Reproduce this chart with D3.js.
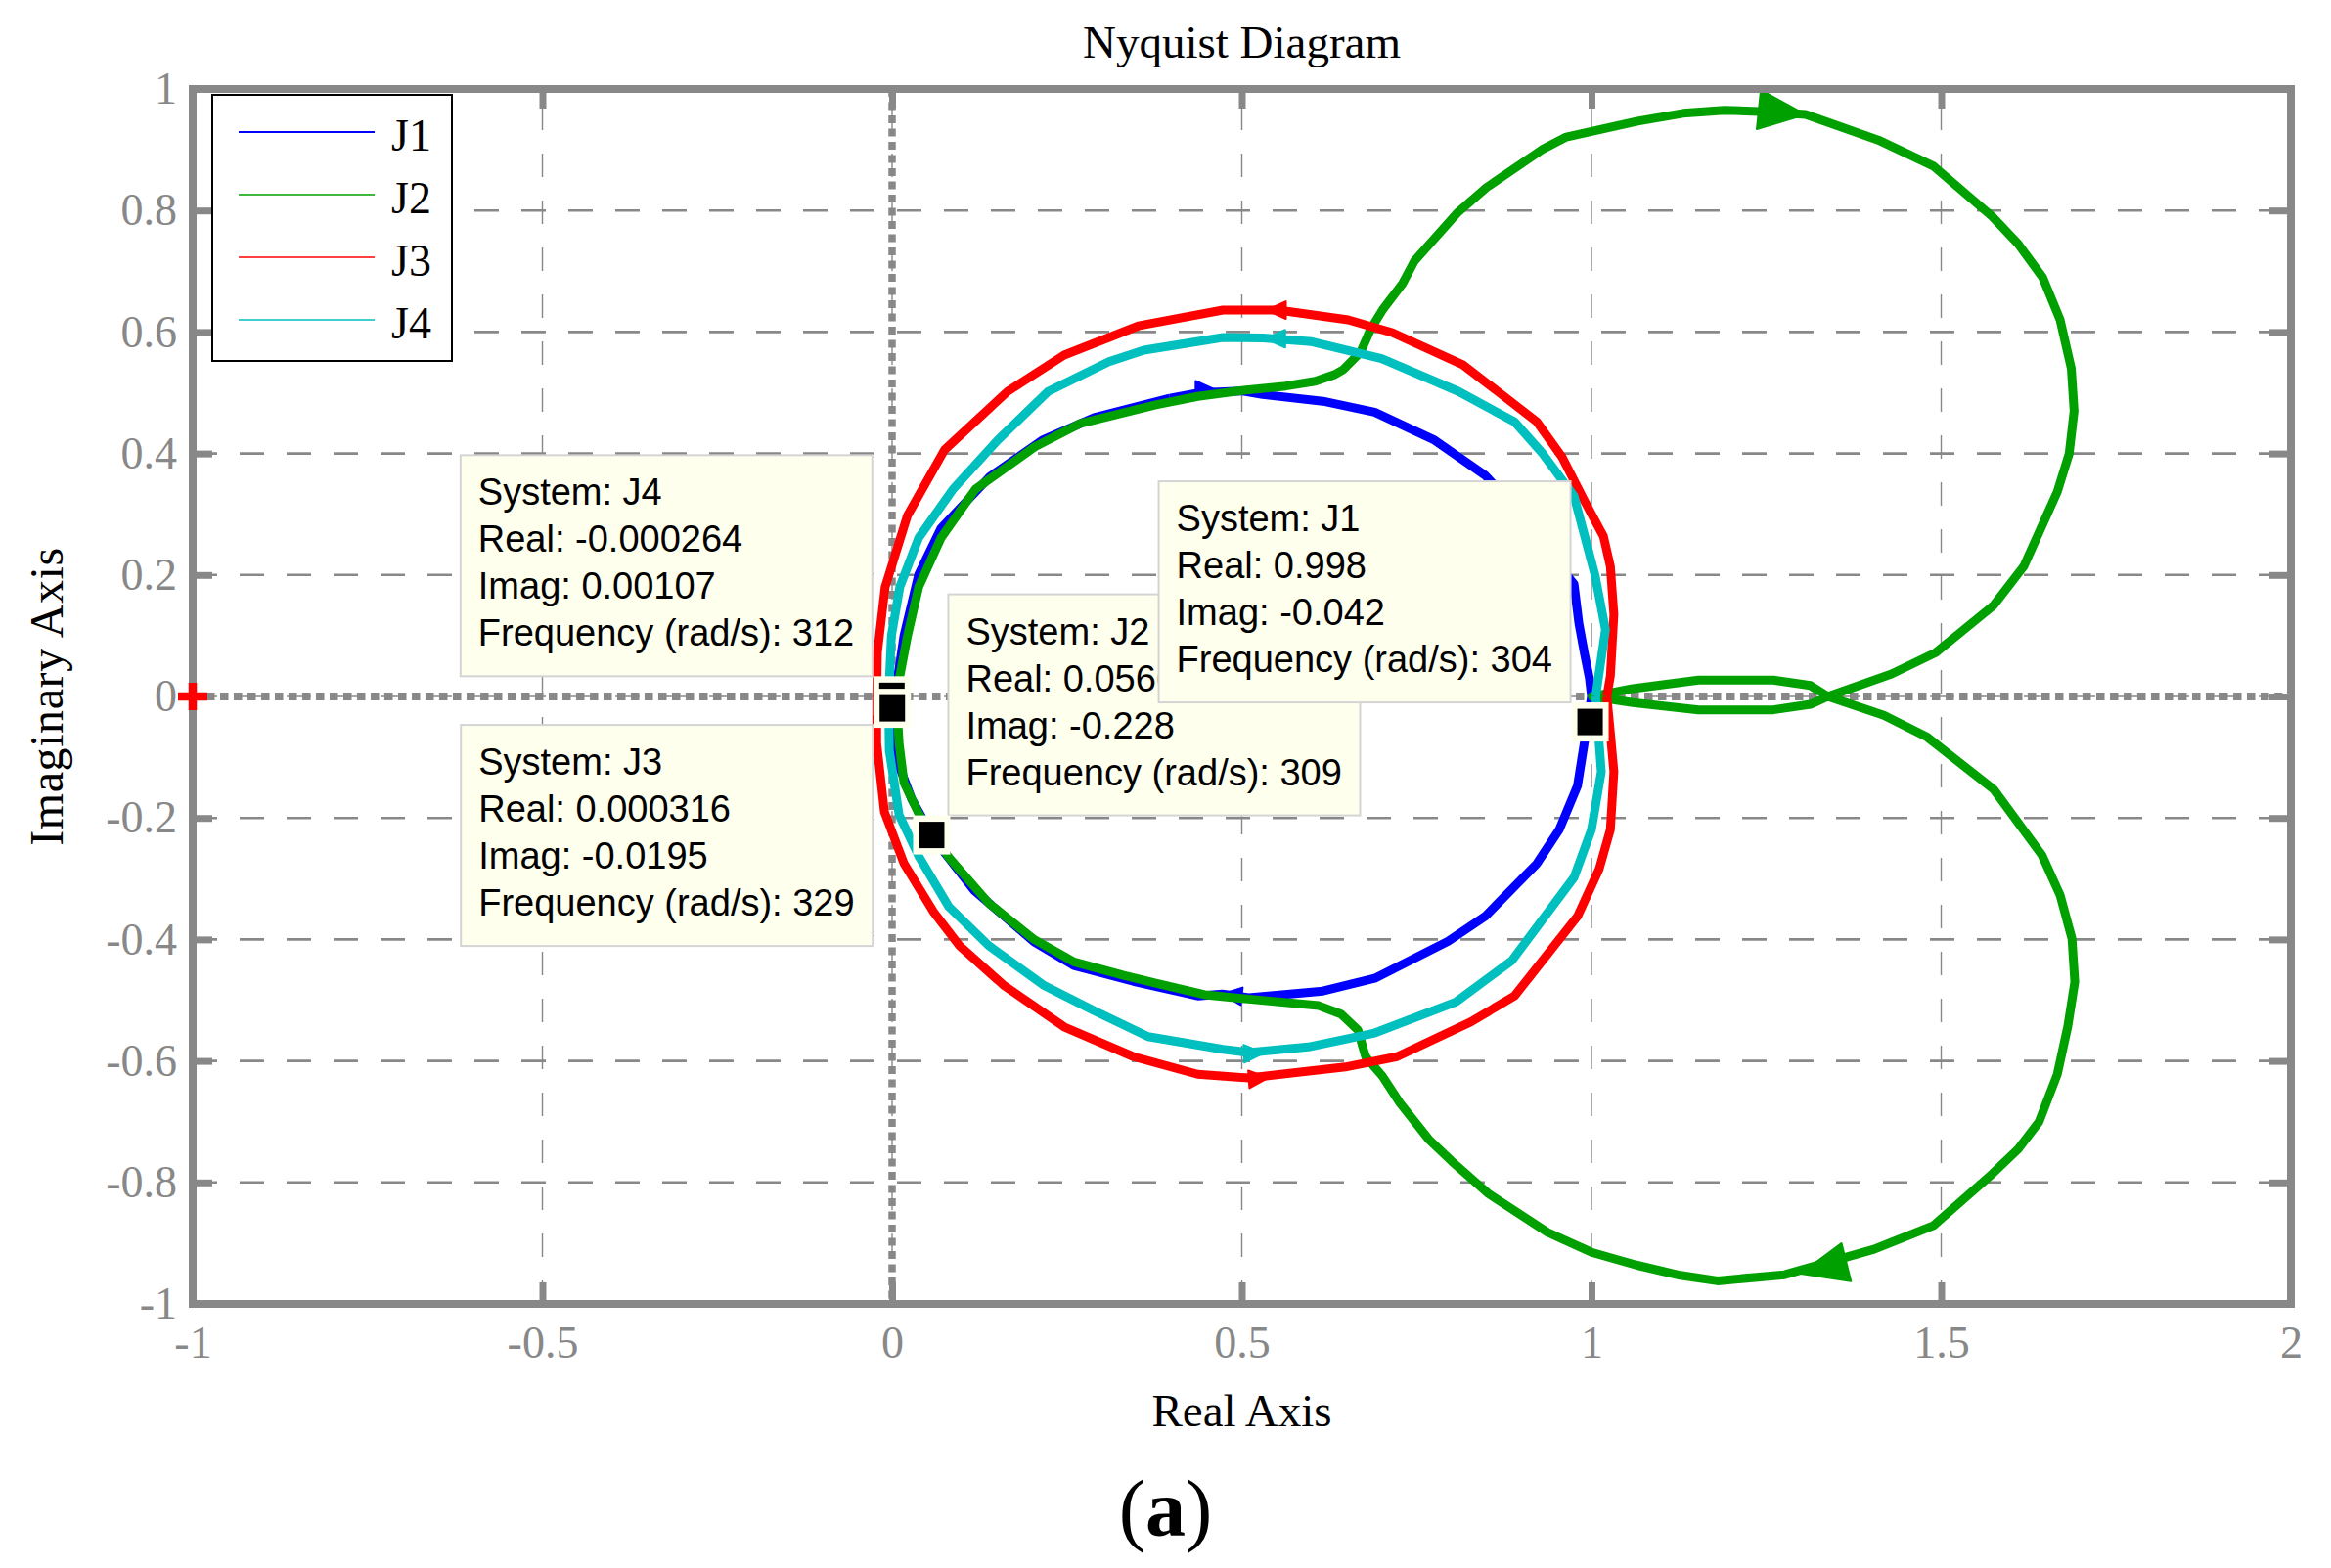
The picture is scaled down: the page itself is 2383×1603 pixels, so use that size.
<!DOCTYPE html>
<html lang="en">
<head>
<meta charset="utf-8">
<title>Nyquist Diagram</title>
<script src="https://d3js.org/d3.v7.min.js"></script>
<style>
  body { margin: 0; background: #fff; }
  svg { display: block; }
</style>
</head>
<body>
<script>
// ---- data ----
var xTicks = [-1, -0.5, 0, 0.5, 1, 1.5, 2];
var xTickLabels = ["-1", "-0.5", "0", "0.5", "1", "1.5", "2"];
var yTicks = [-1, -0.8, -0.6, -0.4, -0.2, 0, 0.2, 0.4, 0.6, 0.8, 1];
var yTickLabels = ["-1", "-0.8", "-0.6", "-0.4", "-0.2", "0", "0.2", "0.4", "0.6", "0.8", "1"];

var systems = ["J1", "J2", "J3", "J4"];

// [real, imag]
var j1Points = [[0.397,0.491],[0.44,0.50],[0.50,0.503],[0.53,0.497],[0.616,0.486],[0.69,0.468],[0.774,0.423],
  [0.848,0.364],[0.90,0.30],[0.94,0.235],[0.975,0.185],[0.982,0.12],[0.99,0.07],[0.997,0.03],[1.0,0.0],
  [0.99,-0.074],[0.98,-0.147],[0.954,-0.219],[0.922,-0.275],[0.848,-0.362],[0.795,-0.403],[0.69,-0.464],
  [0.616,-0.485],[0.51,-0.496],[0.472,-0.49],[0.437,-0.493],[0.345,-0.469],[0.26,-0.443],[0.203,-0.404],
  [0.117,-0.319],[0.06,-0.235],[0.028,-0.169],[0.007,-0.105],[0.002,-0.05],[0.004,0.0],[0.017,0.1],
  [0.038,0.201],[0.07,0.277],[0.14,0.362],[0.215,0.422],[0.289,0.459],[0.397,0.491]];

var j2Points = [[0.006,0.003],[0.022,0.1],[0.038,0.18],[0.07,0.261],[0.119,0.341],[0.204,0.411],[0.268,0.449],
  [0.377,0.48],[0.437,0.494],[0.503,0.504],[0.563,0.511],[0.605,0.519],[0.633,0.53],[0.645,0.538],[0.67,0.567],
  [0.684,0.604],[0.701,0.636],[0.73,0.68],[0.747,0.717],[0.809,0.797],[0.85,0.838],[0.929,0.9],[0.964,0.921],
  [1.066,0.947],[1.131,0.96],[1.19,0.965],[1.24,0.963],[1.306,0.958],[1.41,0.916],[1.489,0.873],[1.573,0.79],
  [1.61,0.745],[1.645,0.69],[1.67,0.62],[1.686,0.54],[1.69,0.47],[1.683,0.40],[1.666,0.337],[1.618,0.214],
  [1.575,0.15],[1.492,0.072],[1.429,0.037],[1.338,0.0],[1.313,-0.013],[1.26,-0.022],[1.153,-0.022],
  [1.059,-0.01],[1.001,0.0],[1.059,0.013],[1.153,0.027],[1.26,0.027],[1.313,0.018],[1.338,0.0],
  [1.418,-0.031],[1.48,-0.067],[1.575,-0.153],[1.644,-0.261],[1.67,-0.327],[1.687,-0.399],[1.691,-0.47],
  [1.681,-0.543],[1.666,-0.622],[1.64,-0.70],[1.61,-0.745],[1.573,-0.786],[1.489,-0.871],[1.404,-0.91],
  [1.276,-0.952],[1.18,-0.962],[1.127,-0.953],[1.064,-0.936],[1.0,-0.915],[0.937,-0.882],[0.852,-0.818],
  [0.80,-0.765],[0.768,-0.73],[0.726,-0.669],[0.701,-0.625],[0.677,-0.593],[0.666,-0.549],[0.642,-0.523],
  [0.61,-0.509],[0.517,-0.499],[0.447,-0.491],[0.377,-0.472],[0.331,-0.459],[0.26,-0.437],[0.203,-0.4],
  [0.138,-0.34],[0.081,-0.265],[0.039,-0.195],[0.017,-0.142],[0.01,-0.077],[0.006,0.003]];

var j3Points = [[1.022,0.0],[1.027,0.034],[1.032,0.135],[1.027,0.214],[1.017,0.264],[0.99,0.322],[0.958,0.394],
  [0.922,0.452],[0.866,0.502],[0.816,0.546],[0.715,0.599],[0.652,0.62],[0.552,0.636],[0.473,0.636],[0.352,0.61],
  [0.246,0.562],[0.165,0.502],[0.075,0.406],[0.022,0.298],[-0.01,0.18],[-0.021,0.072],[-0.022,0.0],
  [-0.022,-0.077],[-0.011,-0.19],[0.017,-0.275],[0.06,-0.356],[0.096,-0.41],[0.159,-0.475],[0.246,-0.544],
  [0.345,-0.593],[0.437,-0.622],[0.51,-0.628],[0.648,-0.61],[0.722,-0.593],[0.827,-0.536],[0.89,-0.493],
  [0.98,-0.362],[1.011,-0.284],[1.027,-0.219],[1.032,-0.124],[1.027,-0.06],[1.022,0.0]];

var j4Points = [[1.006,0.0],[1.02,0.11],[1.005,0.2],[0.975,0.33],[0.93,0.40],[0.89,0.452],[0.81,0.502],
  [0.70,0.556],[0.60,0.584],[0.53,0.59],[0.473,0.591],[0.36,0.57],[0.31,0.551],[0.223,0.502],[0.151,0.422],
  [0.087,0.341],[0.038,0.261],[0.011,0.18],[-0.001,0.1],[-0.005,0.0],[-0.004,-0.089],[0.01,-0.195],
  [0.039,-0.265],[0.081,-0.346],[0.138,-0.41],[0.216,-0.475],[0.288,-0.517],[0.366,-0.56],[0.473,-0.581],
  [0.51,-0.586],[0.595,-0.577],[0.69,-0.554],[0.806,-0.503],[0.886,-0.435],[0.975,-0.298],[1.0,-0.219],
  [1.014,-0.124],[1.006,0.0]];

// direction arrows: tip and a point behind it, both on the curve
var arrowSystem = ["J1", "J1", "J2", "J2", "J3", "J3", "J4", "J4"];
var arrowTip  = [[0.462,0.505],[0.472,-0.49],[1.306,0.958],[1.299,-0.95],[0.535,0.636],[0.538,-0.628],[0.534,0.589],[0.531,-0.587]];
var arrowFrom = [[0.44,0.505],[0.495,-0.493],[1.239,0.966],[1.362,-0.932],[0.565,0.636],[0.513,-0.63],[0.56,0.589],[0.508,-0.588]];

// data tips
var tipSystem = ["J4", "J3", "J2", "J1"];
var tipReal = [-0.000264, 0.000316, 0.0566, 0.998];
var tipImag = [0.00107, -0.0195, -0.228, -0.042];
var tipFreq = [312, 329, 309, 304];

// ---- layout / style ----
var W = 2383, H = 1603;
var margin = {top: 91, right: 41, bottom: 270, left: 197};
var grey = "#888";
var serif = "'Liberation Serif', 'Times New Roman', serif";
var sans = "'Liberation Sans', Arial, sans-serif";
var color = {J1: "#0000ff", J2: "#00a000", J3: "#ff0000", J4: "#00bfbf"};
var legendWidth = {J1: 2.2, J2: 1.4, J3: 1.4, J4: 1.4};
var arrowLen = {J1: 20, J2: 48, J3: 20, J4: 20};
var arrowWid = {J1: 18, J2: 40, J3: 18, J4: 18};
var tipPlace = {J4: "upleft", J3: "downleft", J2: "upright", J1: "upleft"};
var series = {J1: j1Points, J2: j2Points, J3: j3Points, J4: j4Points};

var x = d3.scaleLinear().domain([-1, 2]).range([margin.left, W - margin.right]);
var y = d3.scaleLinear().domain([-1, 1]).range([H - margin.bottom, margin.top]);

var svg = d3.select("body").append("svg")
    .attr("width", W)
    .attr("height", H);

svg.append("rect").attr("width", W).attr("height", H).attr("fill", "#fff");

// grid
svg.append("g").selectAll("line")
    .data(xTicks.slice(1, -1))
    .enter().append("line")
      .attr("x1", function(d) { return x(d); })
      .attr("x2", function(d) { return x(d); })
      .attr("y1", y(1))
      .attr("y2", y(-1))
      .attr("stroke", grey)
      .attr("stroke-width", 1.4)
      .attr("stroke-dasharray", "24 24")
      .attr("stroke-dashoffset", 30);

svg.append("g").selectAll("line")
    .data(yTicks.slice(1, -1))
    .enter().append("line")
      .attr("x1", x(-1))
      .attr("x2", x(2))
      .attr("y1", function(d) { return y(d); })
      .attr("y2", function(d) { return y(d); })
      .attr("stroke", grey)
      .attr("stroke-width", function(d) { return d === 0 ? 1.4 : 2.6; })
      .attr("stroke-dasharray", "25 23");

// dotted zero lines
svg.append("line")
    .attr("x1", x(-1)).attr("x2", x(2))
    .attr("y1", y(0)).attr("y2", y(0))
    .attr("stroke", grey).attr("stroke-width", 8)
    .attr("stroke-dasharray", "8.5 5.5");
svg.append("line")
    .attr("x1", x(0)).attr("x2", x(0))
    .attr("y1", y(1)).attr("y2", y(-1))
    .attr("stroke", grey).attr("stroke-width", 7.5)
    .attr("stroke-dasharray", "8 5.5");

// curves
var line = d3.line()
    .x(function(d) { return x(d[0]); })
    .y(function(d) { return y(d[1]); });

var curves = svg.append("g");
systems.forEach(function(s) {
  curves.append("path")
      .datum(series[s])
      .attr("d", line)
      .attr("fill", "none")
      .attr("stroke", color[s])
      .attr("stroke-width", 9)
      .attr("stroke-linejoin", "round");

  arrowSystem.forEach(function(a, i) {
    if (a !== s) return;
    var px = x(arrowTip[i][0]), py = y(arrowTip[i][1]);
    var qx = x(arrowFrom[i][0]), qy = y(arrowFrom[i][1]);
    var len = Math.hypot(px - qx, py - qy);
    var ux = (px - qx) / len, uy = (py - qy) / len;
    var bx = px - ux * arrowLen[s], by = py - uy * arrowLen[s];
    var hw = arrowWid[s] / 2;
    curves.append("path")
        .attr("d", "M" + [px, py] + "L" + [bx - uy * hw, by + ux * hw] +
                   "L" + [bx + uy * hw, by - ux * hw] + "Z")
        .attr("fill", color[s])
        .attr("stroke", color[s])
        .attr("stroke-width", 2)
        .attr("stroke-linejoin", "round");
  });
});

// axes box and ticks
svg.append("rect")
    .attr("x", x(-1)).attr("y", y(1))
    .attr("width", x(2) - x(-1)).attr("height", y(-1) - y(1))
    .attr("fill", "none")
    .attr("stroke", grey)
    .attr("stroke-width", 8);

function styleAxis(g) {
  g.attr("color", grey);
  g.select(".domain").remove();
  g.selectAll(".tick line").attr("stroke-width", 7);
  g.selectAll(".tick text")
      .attr("font-family", serif)
      .attr("font-size", 46)
      .attr("fill", grey);
}

svg.append("g")
    .attr("transform", "translate(0," + y(-1) + ")")
    .call(d3.axisBottom(x).tickValues(xTicks)
        .tickFormat(function(d, i) { return xTickLabels[i]; })
        .tickSize(-22).tickPadding(22))
    .call(styleAxis);

svg.append("g")
    .attr("transform", "translate(" + x(-1) + ",0)")
    .call(d3.axisLeft(y).tickValues(yTicks)
        .tickFormat(function(d, i) { return yTickLabels[i]; })
        .tickSize(-20).tickPadding(16))
    .call(styleAxis);

svg.append("g")
    .attr("transform", "translate(0," + y(1) + ")")
    .call(d3.axisTop(x).tickValues(xTicks).tickFormat("").tickSize(-20))
    .call(styleAxis);

svg.append("g")
    .attr("transform", "translate(" + x(2) + ",0)")
    .call(d3.axisRight(y).tickValues(yTicks).tickFormat("").tickSize(-22))
    .call(styleAxis);

// critical point -1+j0
var cx = x(-1), cy = y(0);
svg.append("path")
    .attr("d", "M" + (cx - 15) + "," + cy + "H" + (cx + 15) + "M" + cx + "," + (cy - 14) + "V" + (cy + 14))
    .attr("stroke", "#ff0000")
    .attr("stroke-width", 8.5);

// legend
var lg = svg.append("g").attr("transform", "translate(217,97)");
lg.append("rect")
    .attr("width", 245).attr("height", 272)
    .attr("fill", "#fff").attr("stroke", "#000").attr("stroke-width", 2);
systems.forEach(function(s, i) {
  var ry = 38 + i * 64;
  lg.append("line")
      .attr("x1", 27).attr("x2", 166)
      .attr("y1", ry).attr("y2", ry)
      .attr("stroke", color[s]).attr("stroke-width", legendWidth[s]);
  lg.append("text")
      .attr("x", 183).attr("y", ry + 19)
      .attr("font-family", serif).attr("font-size", 46)
      .text(s);
});

// data tips
var boxW = 421, boxH = 226, gap = 20;
tipSystem.forEach(function(s, i) {
  var mx = x(tipReal[i]), my = y(tipImag[i]);
  var bx = tipPlace[s].indexOf("left") >= 0 ? mx - gap - boxW : mx + gap - 3;
  var by = tipPlace[s].indexOf("up") === 0 ? my - gap - boxH : my + gap - 3;
  var g = svg.append("g");
  g.append("rect")
      .attr("x", bx).attr("y", by)
      .attr("width", boxW).attr("height", boxH)
      .attr("fill", "#ffffee")
      .attr("stroke", "#d4d4d4")
      .attr("stroke-width", 2);
  var lines = ["System: " + s,
               "Real: " + String(tipReal[i]),
               "Imag: " + String(tipImag[i]),
               "Frequency (rad/s): " + tipFreq[i]];
  g.selectAll("text")
      .data(lines)
      .enter().append("text")
        .attr("x", bx + 18)
        .attr("y", function(d, k) { return by + 51 + k * 48; })
        .attr("font-family", sans)
        .attr("font-size", 38)
        .attr("fill", "#000")
        .text(function(d) { return d; });
  g.append("rect")
      .attr("x", mx - 19).attr("y", my - 20)
      .attr("width", 38).attr("height", 40)
      .attr("fill", "#ffffee");
  g.append("rect")
      .attr("x", mx - 13).attr("y", my - 13.5)
      .attr("width", 26).attr("height", 27)
      .attr("fill", "#000");
});

// titles
svg.append("text")
    .attr("x", x(0.5)).attr("y", 59)
    .attr("text-anchor", "middle")
    .attr("font-family", serif).attr("font-size", 47)
    .text("Nyquist Diagram");

svg.append("text")
    .attr("x", x(0.5)).attr("y", 1458)
    .attr("text-anchor", "middle")
    .attr("font-family", serif).attr("font-size", 47)
    .text("Real Axis");

svg.append("text")
    .attr("transform", "translate(64," + y(0) + ") rotate(-90)")
    .attr("text-anchor", "middle")
    .attr("font-family", serif).attr("font-size", 48)
    .attr("letter-spacing", 0.6)
    .text("Imaginary Axis");

var cap = svg.append("text")
    .attr("x", W / 2).attr("y", 1570)
    .attr("text-anchor", "middle")
    .attr("font-family", serif).attr("font-size", 82);
cap.append("tspan").text("(");
cap.append("tspan").attr("font-weight", "bold").text("a");
cap.append("tspan").text(")");
</script>
</body>
</html>
